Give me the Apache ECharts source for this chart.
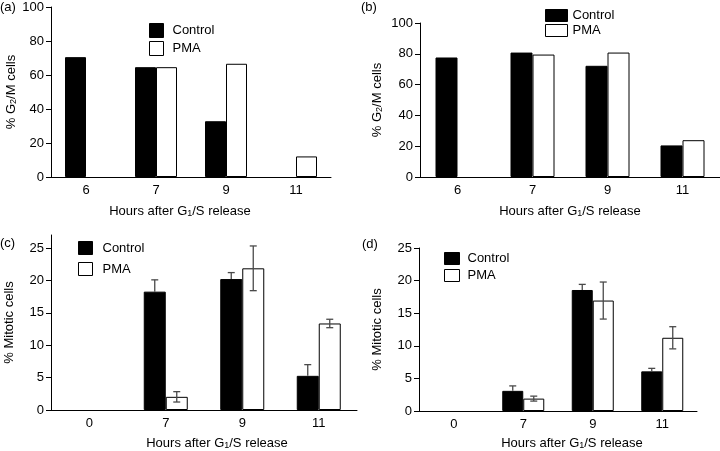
<!DOCTYPE html>
<html>
<head>
<meta charset="utf-8">
<script src="https://cdn.jsdelivr.net/npm/echarts@6/dist/echarts.min.js"></script>
<style>html,body{margin:0;padding:0;background:#fff}#c{width:720px;height:451px}</style>
</head>
<body>
<div id="c"></div>
<script>
// ---- data ----
const catsTop = ['6', '7', '9', '11'];
const catsBottom = ['0', '7', '9', '11'];
const seriesNames = ['Control', 'PMA'];

const aControl = [70.5, 64.6, 32.8, null];
const aPMA = [null, 64.6, 66.6, 12.1];

const bControl = [77.6, 80.8, 72.2, 20.5];
const bPMA = [null, 79.5, 80.8, 23.9];

const cControl = [null, 18.26, 20.2, 5.27];
const cControlErr = [null, 1.82, 1.0, 1.73];
const cPMA = [null, 2.03, 21.86, 13.35];
const cPMAErr = [null, 0.8, 3.45, 0.65];

const dControl = [null, 3.09, 18.56, 6.08];
const dControlErr = [null, 0.76, 0.86, 0.46];
const dPMA = [null, 1.9, 16.94, 11.23];
const dPMAErr = [null, 0.38, 2.84, 1.7];

const yTicksAB = [0, 20, 40, 60, 80, 100];
const yTicksCD = [0, 5, 10, 15, 20, 25];

const yNameTop = '% G{sub|2}/M cells';
const yNameBottom = '% Mitotic cells';
const xName = 'Hours after G{sub|1}/S release';
const panelLabels = ['(a)', '(b)', '(c)', '(d)'];

// ---- layout / style ----
const FONT = '"Liberation Sans", Arial, Helvetica, sans-serif';
const panels = [
  {grid: {left: 51, top: 7, width: 280, height: 170}, cats: catsTop, max: 100, ticks: yTicksAB, yName: yNameTop, yGap: 31, xGap: 28, xPad: [0, 22, 0, 0], bw: 21,
   ctrl: aControl, pma: aPMA, legend: {left: 144, top: 18, w: 14, h: 14, gap: 3, pad: 4}},
  {grid: {left: 420, top: 23, width: 300, height: 154}, cats: catsTop, max: 100, ticks: yTicksAB, yName: yNameTop, yGap: 36, xGap: 28, xPad: [0, 0, 0, 0], bw: 22,
   ctrl: bControl, pma: bPMA, legend: {left: 540, top: 4, w: 22, h: 12, gap: 2, pad: 0}},
  {grid: {left: 51, top: 235, width: 306, height: 177}, cats: catsBottom, max: 27, ticks: yTicksCD, yName: yNameBottom, yGap: 35, xGap: 27, xPad: [0, 0, 0, 26], bw: 22,
   ctrl: cControl, pma: cPMA, ctrlErr: cControlErr, pmaErr: cPMAErr, legend: {left: 73, top: 236, w: 14, h: 13, gap: 7, pad: 5}},
  {grid: {left: 419, top: 248, width: 278, height: 164}, cats: catsBottom, max: 25, ticks: yTicksCD, yName: yNameBottom, yGap: 35, xGap: 26, xPad: [0, 0, 0, 28], bw: 21,
   ctrl: dControl, pma: dPMA, ctrlErr: dControlErr, pmaErr: dPMAErr, legend: {left: 439, top: 247, w: 15, h: 12, gap: 4, pad: 3}}
];
const labelPos = [{left: 0, top: 1}, {left: 361, top: 1}, {left: 0, top: 237}, {left: 362, top: 238}];

const rich = {sub: {fontSize: 9, fontFamily: FONT, color: '#000', verticalAlign: 'bottom', lineHeight: 10}};

function errRender(side, bw, upperOnly) {
  return function (params, api) {
    const x = api.value(0), v = api.value(1), e = api.value(2);
    const c = api.coord([x, v]);
    const t = api.coord([x, v + e]);
    const b = api.coord([x, v - e]);
    const cx = c[0] + side * bw / 2;
    const y1 = upperOnly ? c[1] : b[1];
    const st = {stroke: '#4a4a4a', lineWidth: 1.3};
    const ch = [
      {type: 'line', shape: {x1: cx, y1: t[1], x2: cx, y2: y1}, style: st},
      {type: 'line', shape: {x1: cx - 3.5, y1: t[1], x2: cx + 3.5, y2: t[1]}, style: st}
    ];
    if (!upperOnly) ch.push({type: 'line', shape: {x1: cx - 3.5, y1: b[1], x2: cx + 3.5, y2: b[1]}, style: st});
    return {type: 'group', children: ch};
  };
}

const grids = [], xAxes = [], yAxes = [], series = [], legends = [];
panels.forEach((p, i) => {
  grids.push(Object.assign({containLabel: false}, p.grid));
  xAxes.push({
    type: 'category', gridIndex: i, data: p.cats,
    axisLine: {lineStyle: {color: '#000', width: 1}}, axisTick: {show: false},
    axisLabel: {color: '#000', fontSize: 13, fontFamily: FONT, margin: 7},
    name: xName, nameLocation: 'middle', nameGap: p.xGap,
    nameTextStyle: {color: '#000', fontSize: 13, fontFamily: FONT, padding: p.xPad, rich: rich}
  });
  yAxes.push({
    type: 'value', gridIndex: i, min: 0, max: p.max,
    splitLine: {show: false},
    axisLine: {show: true, lineStyle: {color: '#000', width: 1}},
    axisTick: {show: true, length: 5, lineStyle: {color: '#000'}, customValues: p.ticks},
    axisLabel: {color: '#000', fontSize: 13, fontFamily: FONT, margin: 7, customValues: p.ticks},
    name: p.yName, nameLocation: 'middle', nameGap: p.yGap, nameRotate: 90,
    nameTextStyle: {color: '#000', fontSize: 13, fontFamily: FONT, rich: rich}
  });
  series.push({
    name: seriesNames[0], type: 'bar', xAxisIndex: i, yAxisIndex: i, barWidth: p.bw, barGap: '0%',
    data: p.ctrl.map(v => v == null ? '-' : v),
    itemStyle: {color: '#000', borderColor: '#000', borderWidth: 1}, silent: true, animation: false
  });
  series.push({
    name: seriesNames[1], type: 'bar', xAxisIndex: i, yAxisIndex: i, barWidth: p.bw, barGap: '0%',
    data: p.pma.map(v => v == null ? '-' : v),
    itemStyle: {color: '#fff', borderColor: '#000', borderWidth: 1}, silent: true, animation: false
  });
  if (p.ctrlErr) {
    series.push({
      type: 'custom', xAxisIndex: i, yAxisIndex: i, z: 10, animation: false, silent: true,
      renderItem: errRender(-1, p.bw, true),
      data: p.ctrl.map((v, k) => v == null ? null : [k, v, p.ctrlErr[k]]).filter(d => d)
    });
    series.push({
      type: 'custom', xAxisIndex: i, yAxisIndex: i, z: 10, animation: false, silent: true,
      renderItem: errRender(1, p.bw, false),
      data: p.pma.map((v, k) => v == null ? null : [k, v, p.pmaErr[k]]).filter(d => d)
    });
  }
  legends.push({
    data: seriesNames, orient: 'vertical', left: p.legend.left, top: p.legend.top,
    itemWidth: p.legend.w, itemHeight: p.legend.h, itemGap: p.legend.gap, icon: 'rect',
    selectedMode: false,
    itemStyle: {borderColor: '#000', borderWidth: 1},
    textStyle: {color: '#000', fontSize: 13, fontFamily: FONT, padding: [0, 0, 0, p.legend.pad]}
  });
});

const chart = echarts.init(document.getElementById('c'), null, {renderer: 'canvas'});
chart.setOption({
  animation: false,
  backgroundColor: '#fff',
  grid: grids, xAxis: xAxes, yAxis: yAxes, series: series, legend: legends,
  graphic: panelLabels.map((t, i) => ({
    type: 'text', left: labelPos[i].left, top: labelPos[i].top,
    style: {text: t, fill: '#000', font: '13px ' + FONT}
  }))
});
</script>
</body>
</html>
